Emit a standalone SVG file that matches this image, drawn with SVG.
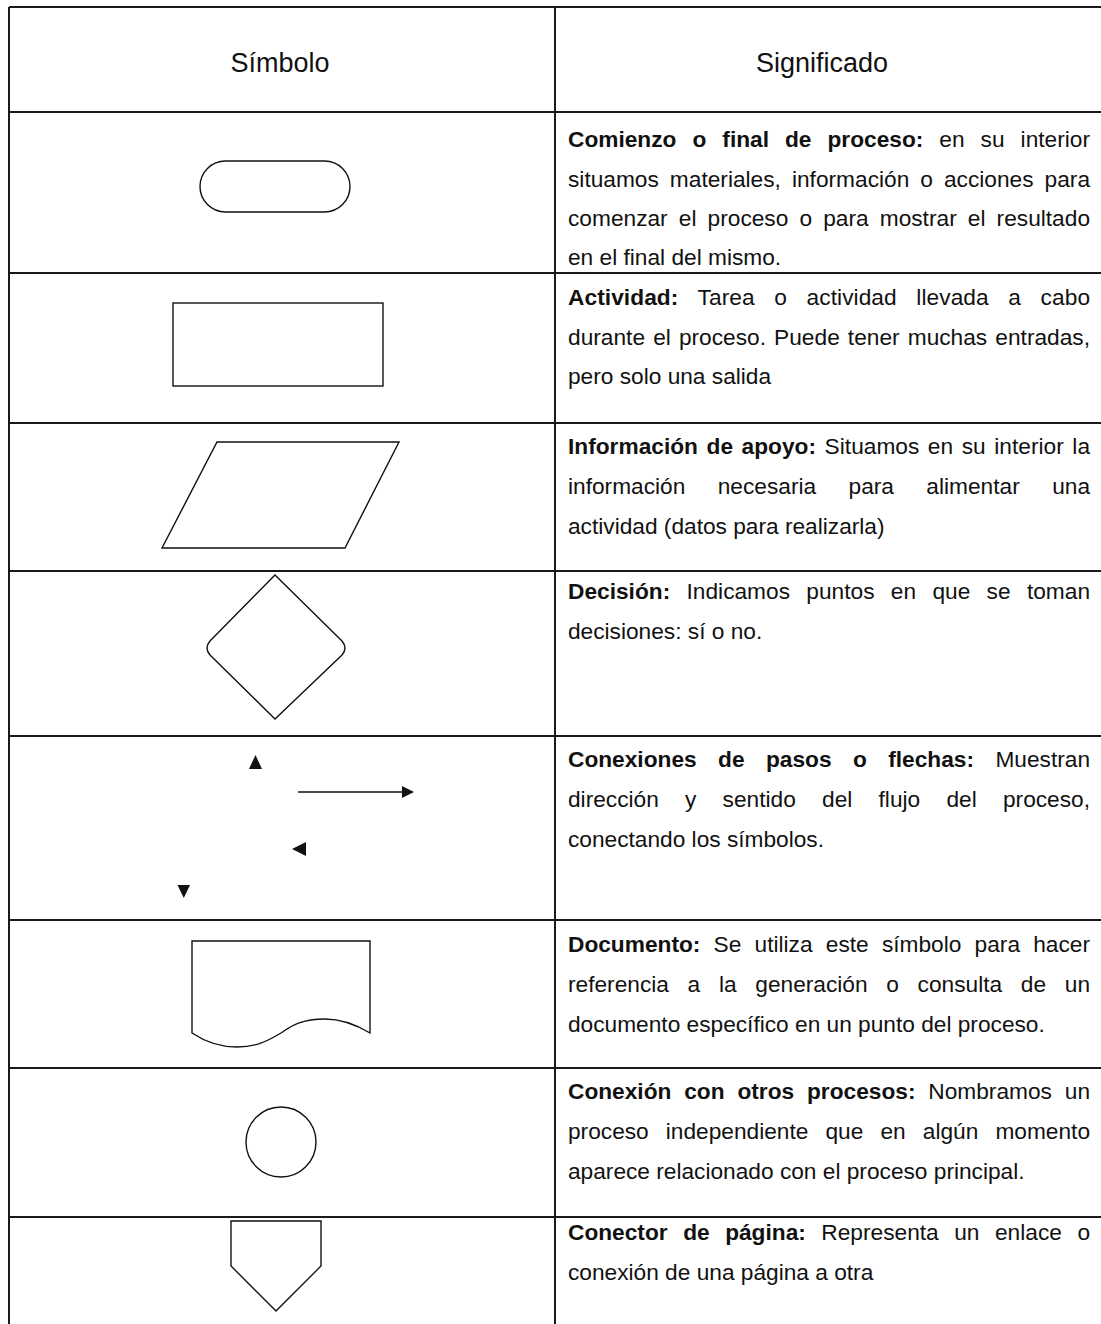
<svg xmlns="http://www.w3.org/2000/svg" width="1101" height="1324" viewBox="0 0 1101 1324">
<style>
.grid{stroke:#1a1a1a;stroke-width:2;fill:none}
.shape{stroke:#111;stroke-width:1.4;fill:none}
.hd{font-family:"Liberation Sans",Arial,sans-serif;font-size:27px;fill:#111;text-anchor:middle}
.tx{font-family:"Liberation Sans",Arial,sans-serif;font-size:22.7px;fill:#111}
.b{font-weight:bold}
.tri{fill:#111}
</style>
<rect width="1101" height="1324" fill="#fff"/>
<g id="table">
<line class="grid" x1="9" y1="7" x2="1101" y2="7"/>
<line class="grid" x1="9" y1="7" x2="9" y2="1324"/>
<line class="grid" x1="555" y1="7" x2="555" y2="1324"/>
<line class="grid" x1="9" y1="112" x2="1101" y2="112"/>
<line class="grid" x1="9" y1="273" x2="1101" y2="273"/>
<line class="grid" x1="9" y1="423" x2="1101" y2="423"/>
<line class="grid" x1="9" y1="571" x2="1101" y2="571"/>
<line class="grid" x1="9" y1="736" x2="1101" y2="736"/>
<line class="grid" x1="9" y1="920" x2="1101" y2="920"/>
<line class="grid" x1="9" y1="1068" x2="1101" y2="1068"/>
<line class="grid" x1="9" y1="1217" x2="1101" y2="1217"/>
<text class="hd" x="280" y="72">Símbolo</text>
<text class="hd" x="822" y="72">Significado</text>
</g>
<g id="terminal"><rect class="shape" x="200" y="161" width="150" height="51" rx="25.5"/></g>
<g id="actividad"><rect class="shape" x="173" y="303" width="210" height="83"/></g>
<g id="informacion"><polygon class="shape" points="217,442 399,442 345,548 162,548"/></g>
<g id="decision"><path class="shape" d="M275,575 L342,641 Q348,648 342,655 L275,719 L210,655 Q204,648 210,641 Z"/></g>
<g id="conexiones">
<polygon class="tri" points="255.5,755 262,769 249,769"/>
<line class="shape" x1="298" y1="792" x2="403" y2="792"/>
<polygon class="tri" points="414,792 402,786 402,798"/>
<polygon class="tri" points="292,849 306,842 306,856"/>
<polygon class="tri" points="177.5,885 190,885 183.8,898"/>
</g>
<g id="documento"><path class="shape" d="M192,941 L370,941 L370,1033 C355,1024 340,1019 325,1019 C300,1019 290,1027 281,1033 C266,1042 255,1047 237,1047 C218,1047 204,1041 192,1033 Z"/></g>
<g id="conexion-procesos"><circle class="shape" cx="281" cy="1142" r="35"/></g>
<g id="conector-pagina"><polygon class="shape" points="231,1221 321,1221 321,1266 276,1311 231,1266"/></g>
<g id="textos">
<text class="tx" x="568" y="147" word-spacing="9.7" textLength="522"><tspan class="b">Comienzo o final de proceso:</tspan> en su interior</text>
<text class="tx" x="568" y="187" word-spacing="4.7" textLength="522">situamos materiales, información o acciones para</text>
<text class="tx" x="568" y="226" word-spacing="4.8" textLength="522">comenzar el proceso o para mostrar el resultado</text>
<text class="tx" x="568" y="265">en el final del mismo.</text>

<text class="tx" x="568" y="305" word-spacing="13.2" textLength="522"><tspan class="b">Actividad:</tspan> Tarea o actividad llevada a cabo</text>
<text class="tx" x="568" y="345" word-spacing="1.8" textLength="522">durante el proceso. Puede tener muchas entradas,</text>
<text class="tx" x="568" y="384">pero solo una salida</text>

<text class="tx" x="568" y="454" word-spacing="2.3" textLength="522"><tspan class="b">Información de apoyo:</tspan> Situamos en su interior la</text>
<text class="tx" x="568" y="494" word-spacing="26.1" textLength="522">información necesaria para alimentar una</text>
<text class="tx" x="568" y="534">actividad (datos para realizarla)</text>

<text class="tx" x="568" y="599" word-spacing="10" textLength="522"><tspan class="b">Decisión:</tspan> Indicamos puntos en que se toman</text>
<text class="tx" x="568" y="639">decisiones: sí o no.</text>

<text class="tx" x="568" y="767" word-spacing="15.1" textLength="522"><tspan class="b">Conexiones de pasos o flechas:</tspan> Muestran</text>
<text class="tx" x="568" y="807" word-spacing="19.9" textLength="522">dirección y sentido del flujo del proceso,</text>
<text class="tx" x="568" y="847">conectando los símbolos.</text>

<text class="tx" x="568" y="952" word-spacing="6.9" textLength="522"><tspan class="b">Documento:</tspan> Se utiliza este símbolo para hacer</text>
<text class="tx" x="568" y="992" word-spacing="12.4" textLength="522">referencia a la generación o consulta de un</text>
<text class="tx" x="568" y="1032">documento específico en un punto del proceso.</text>

<text class="tx" x="568" y="1099" word-spacing="6.5" textLength="522"><tspan class="b">Conexión con otros procesos:</tspan> Nombramos un</text>
<text class="tx" x="568" y="1139" word-spacing="10.8" textLength="522">proceso independiente que en algún momento</text>
<text class="tx" x="568" y="1179">aparece relacionado con el proceso principal.</text>

<text class="tx" x="568" y="1240" word-spacing="9.2" textLength="522"><tspan class="b">Conector de página:</tspan> Representa un enlace o</text>
<text class="tx" x="568" y="1280">conexión de una página a otra</text>
</g>
</svg>
